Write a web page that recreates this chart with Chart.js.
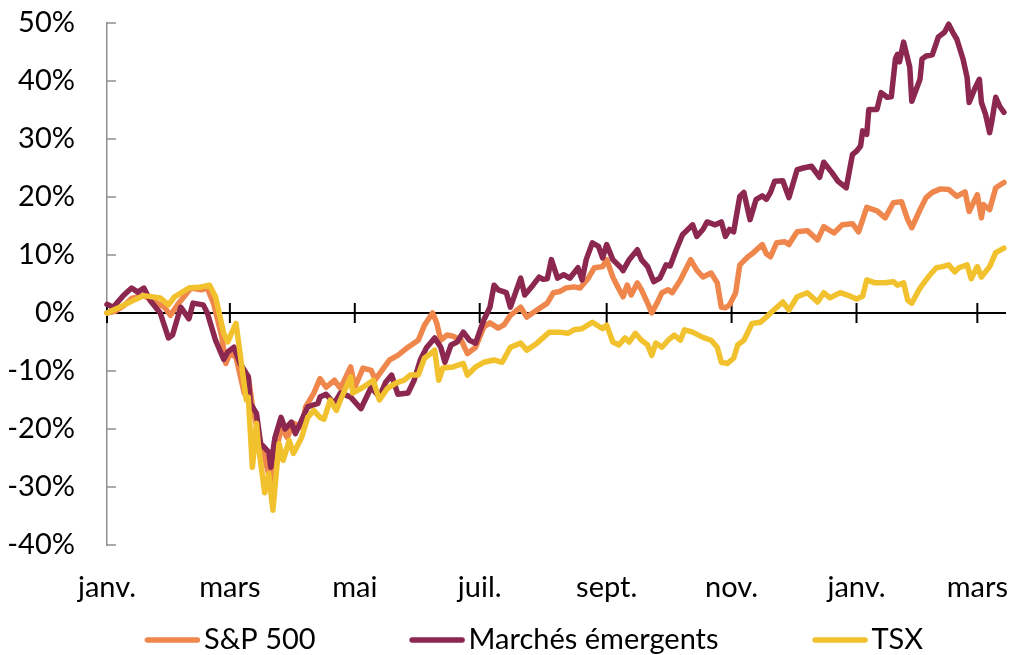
<!DOCTYPE html>
<html lang="fr">
<head>
<meta charset="utf-8">
<title>Indices boursiers</title>
<script src="https://cdn.jsdelivr.net/npm/chart.js@4/dist/chart.umd.min.js"></script>
<style>
  html, body { margin: 0; padding: 0; background: #fff; }
  #wrap { width: 1013px; height: 655px; }
</style>
</head>
<body>
<div id="wrap"><canvas id="marketChart" width="1013" height="655"></canvas></div>
<script>
// x values are days counted from 1 Jan 2020, y values are % change since then
const monthTicks = [0, 60, 121, 182, 244, 305, 366, 425];
const monthLabels = ['janv.', 'mars', 'mai', 'juil.', 'sept.', 'nov.', 'janv.', 'mars'];

const seriesNames = ['S&P 500', 'Marchés émergents', 'TSX'];
const seriesColors = ['#EF864C', '#8C2850', '#F2C12E'];

const sp500 = [
  [0, 0.0], [4, 0.3], [8, 1.2], [12, 2.5], [18, 3.0], [23, 2.0], [28, 1.0], [31, -0.4],
  [35, 1.7], [41, 4.3], [46, 4.0], [49, 4.3], [52, 1.7], [56, -4.0], [58, -8.7], [60, -7.0],
  [63, -7.6], [67, -13.8], [69, -11.0], [71, -16.0], [74, -21.0], [77, -24.9], [80, -29.4],
  [81, -27.0], [85, -19.7], [88, -21.5], [91, -19.0], [95, -19.7], [97, -16.2], [101, -13.8],
  [104, -11.3], [107, -12.8], [111, -11.6], [114, -13.0], [119, -9.3], [121, -12.8],
  [125, -9.5], [129, -9.9], [131, -11.5], [138, -8.1], [142, -7.3], [147, -5.9], [152, -4.7],
  [155, -2.1], [159, 0.0], [161, -1.7], [163, -4.7], [166, -3.8], [169, -4.0], [173, -4.7],
  [176, -7.0], [180, -5.9], [184, -2.4], [187, -1.7], [191, -2.6], [194, -2.0], [197, -0.4],
  [202, 1.0], [205, -0.7], [210, 0.5], [215, 1.7], [218, 3.5], [221, 3.7], [224, 4.3],
  [228, 4.5], [231, 4.3], [235, 6.0], [238, 7.8], [242, 8.0], [244, 9.2], [247, 6.2],
  [249, 4.8], [252, 2.8], [254, 4.8], [256, 3.1], [259, 5.2], [261, 4.0], [264, 1.7],
  [266, 0.0], [269, 2.0], [271, 3.5], [274, 4.0], [276, 3.5], [280, 5.7], [285, 9.2],
  [288, 7.4], [291, 6.2], [295, 6.9], [298, 5.2], [300, 1.0], [302, 0.9], [304, 1.4],
  [307, 3.5], [309, 8.3], [313, 9.7], [315, 10.2], [320, 11.8], [322, 10.2], [324, 9.7],
  [327, 12.1], [331, 12.3], [333, 11.8], [337, 14.0], [342, 14.2], [347, 12.6], [350, 14.9],
  [355, 13.8], [359, 15.2], [364, 15.4], [367, 14.0], [371, 18.2], [376, 17.6], [380, 16.4],
  [384, 19.0], [388, 19.2], [391, 16.1], [393, 14.7], [397, 17.8], [400, 19.9], [403, 20.8],
  [407, 21.4], [411, 21.3], [415, 20.1], [419, 20.9], [421, 17.5], [425, 20.4], [427, 16.4],
  [428, 18.7], [431, 17.8], [434, 21.6], [438, 22.5]
];

const emerging = [
  [0, 1.5], [3, 1.0], [8, 3.0], [12, 4.3], [15, 3.6], [18, 4.3], [21, 2.2], [26, 0.0],
  [30, -4.3], [32, -3.8], [36, 1.0], [40, -1.0], [42, 1.7], [47, 1.4], [49, 0.0], [53, -4.7],
  [57, -8.0], [59, -6.7], [62, -5.9], [65, -8.7], [69, -11.0], [70, -15.6], [73, -17.3],
  [75, -22.5], [79, -24.0], [80, -26.6], [82, -21.5], [85, -18.0], [87, -20.0], [90, -18.8],
  [92, -20.8], [95, -18.5], [98, -16.2], [103, -15.6], [104, -14.5], [107, -14.0],
  [111, -15.6], [114, -13.8], [119, -14.5], [124, -16.5], [129, -12.8], [133, -14.5],
  [136, -12.0], [139, -10.7], [142, -14.0], [147, -13.8], [150, -11.6], [153, -8.1],
  [156, -6.0], [160, -4.3], [163, -5.9], [165, -8.5], [168, -5.5], [171, -5.0], [174, -3.3],
  [177, -4.7], [180, -5.2], [184, -1.2], [187, 1.0], [189, 4.8], [191, 4.0], [195, 3.5],
  [197, 1.0], [198, 2.0], [202, 6.0], [204, 3.1], [208, 4.8], [211, 6.2], [213, 5.8],
  [215, 5.9], [217, 9.2], [220, 6.0], [223, 6.6], [226, 6.0], [230, 7.8], [232, 5.7],
  [234, 9.2], [237, 12.1], [240, 11.5], [242, 9.5], [244, 11.8], [247, 9.2], [251, 7.8],
  [252, 7.3], [255, 9.2], [259, 10.9], [261, 9.2], [264, 8.0], [267, 5.4], [270, 6.0],
  [273, 8.3], [275, 8.1], [278, 10.9], [281, 13.5], [286, 15.2], [288, 13.2], [291, 14.4],
  [293, 15.7], [297, 15.2], [300, 15.7], [302, 13.2], [304, 14.4], [306, 14.0], [309, 20.1],
  [311, 20.8], [314, 16.1], [317, 19.6], [320, 20.2], [322, 19.6], [324, 20.8], [326, 22.7],
  [330, 22.8], [333, 19.9], [337, 24.7], [340, 25.0], [344, 25.3], [348, 23.4], [350, 26.0],
  [354, 24.2], [357, 22.7], [361, 21.6], [364, 27.3], [366, 27.9], [368, 28.8], [369, 31.4],
  [371, 30.8], [372, 35.1], [376, 35.1], [378, 38.0], [381, 37.2], [383, 37.3], [385, 43.8],
  [386, 44.6], [387, 43.3], [389, 46.7], [392, 42.4], [393, 36.5], [397, 40.3], [398, 43.8],
  [400, 44.3], [403, 44.5], [406, 47.6], [409, 48.4], [411, 49.8], [413, 48.4], [415, 47.2],
  [418, 43.8], [420, 40.6], [421, 36.3], [424, 38.9], [426, 40.3], [427, 36.3], [429, 34.3],
  [431, 31.1], [432, 32.9], [434, 37.2], [436, 35.6], [438, 34.6]
];

const tsx = [
  [0, 0.0], [5, 0.8], [12, 2.0], [18, 3.0], [26, 2.6], [30, 1.4], [33, 2.8], [40, 4.3],
  [46, 4.5], [50, 4.8], [53, 2.8], [57, -3.5], [59, -5.0], [61, -3.3], [63, -1.8], [65, -7.0],
  [68, -15.0], [69, -14.5], [71, -26.6], [73, -19.0], [74, -23.0], [77, -31.0], [79, -27.7],
  [81, -34.0], [84, -22.5], [86, -25.4], [89, -22.0], [91, -24.2], [95, -21.5], [98, -18.0],
  [101, -16.8], [104, -18.0], [106, -18.3], [109, -15.0], [112, -16.8], [114, -15.0],
  [119, -11.0], [120, -13.8], [125, -12.8], [130, -11.6], [133, -15.0], [137, -13.0],
  [141, -12.1], [145, -11.6], [148, -10.7], [152, -10.7], [155, -7.8], [158, -7.0],
  [160, -6.4], [162, -11.6], [164, -9.5], [169, -9.3], [174, -8.7], [176, -10.7], [180, -9.3],
  [184, -8.5], [189, -8.1], [193, -8.5], [197, -5.9], [202, -5.2], [205, -6.4], [210, -5.2],
  [216, -3.3], [221, -3.3], [225, -3.5], [228, -2.9], [232, -2.7], [237, -1.6], [242, -2.7],
  [244, -2.1], [247, -5.0], [250, -5.5], [253, -4.3], [255, -5.0], [258, -3.5], [261, -4.7],
  [264, -5.5], [266, -7.3], [268, -5.2], [271, -5.9], [274, -4.7], [277, -3.8], [280, -4.7],
  [282, -2.9], [286, -3.3], [291, -4.2], [295, -4.7], [298, -5.9], [300, -8.5], [303, -8.7],
  [306, -7.8], [308, -5.5], [311, -4.7], [315, -1.8], [319, -1.6], [322, -0.7], [324, 0.0],
  [330, 1.9], [333, 0.5], [337, 2.8], [342, 3.5], [347, 1.9], [350, 3.5], [353, 2.6],
  [358, 3.5], [363, 2.9], [366, 2.4], [369, 2.9], [371, 5.7], [375, 5.2], [380, 5.2],
  [384, 5.4], [386, 4.8], [389, 5.2], [391, 2.2], [393, 1.7], [397, 4.3], [401, 6.2],
  [405, 7.8], [408, 8.0], [411, 8.3], [414, 7.1], [416, 7.8], [420, 8.3], [422, 5.9],
  [425, 8.0], [427, 6.2], [431, 8.0], [434, 10.4], [438, 11.2]
];

const FONT_FAMILY = 'Lato, "Open Sans", sans-serif';
Chart.defaults.font.family = FONT_FAMILY;
Chart.defaults.font.size = 29;
Chart.defaults.color = '#000';

function strokeLine(ctx, x1, y1, x2, y2) {
  ctx.beginPath();
  ctx.moveTo(x1, y1);
  ctx.lineTo(x2, y2);
  ctx.stroke();
}

// zero line with month ticks crossing it, plus short ticks inside the y axis
const axisMarks = {
  id: 'axisMarks',
  beforeDatasetsDraw(chart) {
    const { ctx, chartArea, scales: { x, y } } = chart;
    ctx.save();
    ctx.strokeStyle = '#8f8f8f';
    ctx.lineWidth = 1.5;
    y.ticks.forEach(t => {
      const py = y.getPixelForValue(t.value);
      strokeLine(ctx, chartArea.left, py, chartArea.left + 9, py);
    });
    const y0 = y.getPixelForValue(0);
    ctx.strokeStyle = '#000';
    ctx.lineWidth = 2;
    strokeLine(ctx, chartArea.left, y0, chartArea.right, y0);
    x.ticks.forEach(t => {
      const px = x.getPixelForValue(t.value);
      strokeLine(ctx, px, y0 - 10, px, y0 + 10);
    });
    ctx.restore();
  }
};

// one row legend: short line sample, then the series name, wide gaps between items
const lineLegend = {
  id: 'lineLegend',
  afterDraw(chart, args, opts) {
    const { ctx } = chart;
    const items = chart.data.datasets;
    ctx.save();
    ctx.font = opts.fontSize + 'px ' + FONT_FAMILY;
    ctx.textBaseline = 'middle';
    const widths = items.map(ds => ctx.measureText(ds.label).width);
    const total = widths.reduce((s, w) => s + w + opts.sample + opts.textGap, 0)
      + opts.itemGap * (items.length - 1);
    let x = opts.center - total / 2;
    items.forEach((ds, i) => {
      ctx.strokeStyle = ds.borderColor;
      ctx.lineWidth = 5.5;
      ctx.lineCap = 'round';
      strokeLine(ctx, x + 2.5, opts.y, x + opts.sample - 2.5, opts.y);
      x += opts.sample + opts.textGap;
      ctx.fillStyle = '#000';
      ctx.fillText(ds.label, x, opts.y);
      x += widths[i] + opts.itemGap;
    });
    ctx.restore();
  }
};

const allSeries = [sp500, emerging, tsx];
// later series sit on top of earlier ones
const datasets = allSeries.map((series, i) => ({
  label: seriesNames[i],
  data: series.map(([d, v]) => ({ x: d, y: v })),
  borderColor: seriesColors[i],
  backgroundColor: seriesColors[i],
  borderWidth: 5.5,
  borderJoinStyle: 'round',
  borderCapStyle: 'round',
  pointRadius: 0,
  tension: 0,
  clip: false,
  order: allSeries.length - i
}));

new Chart(document.getElementById('marketChart').getContext('2d'), {
  type: 'line',
  data: { datasets },
  plugins: [axisMarks, lineLegend],
  options: {
    responsive: false,
    animation: false,
    layout: { padding: { top: 23, left: 0, right: 7, bottom: 50 } },
    plugins: {
      tooltip: { enabled: false },
      legend: { display: false },
      lineLegend: { center: 534, y: 640, fontSize: 29, sample: 55, textGap: 4, itemGap: 94 }
    },
    scales: {
      x: {
        type: 'linear',
        min: 0,
        max: 439,
        grid: { display: false, drawTicks: true, tickLength: 23 },
        border: { display: false },
        afterBuildTicks: scale => {
          scale.ticks = monthTicks.map(v => ({ value: v }));
        },
        afterFit: scale => { scale.height = 60; },
        ticks: {
          autoSkip: false,
          maxRotation: 0,
          padding: 2,
          callback: value => monthLabels[monthTicks.indexOf(value)]
        }
      },
      y: {
        min: -40,
        max: 50,
        grid: { display: false, drawTicks: true, tickLength: 30 },
        border: { display: true, color: '#8f8f8f', width: 1.5 },
        afterFit: scale => { scale.width = 107; },
        ticks: {
          stepSize: 10,
          padding: 2,
          callback: value => value + '%'
        }
      }
    }
  }
});
</script>
</body>
</html>
